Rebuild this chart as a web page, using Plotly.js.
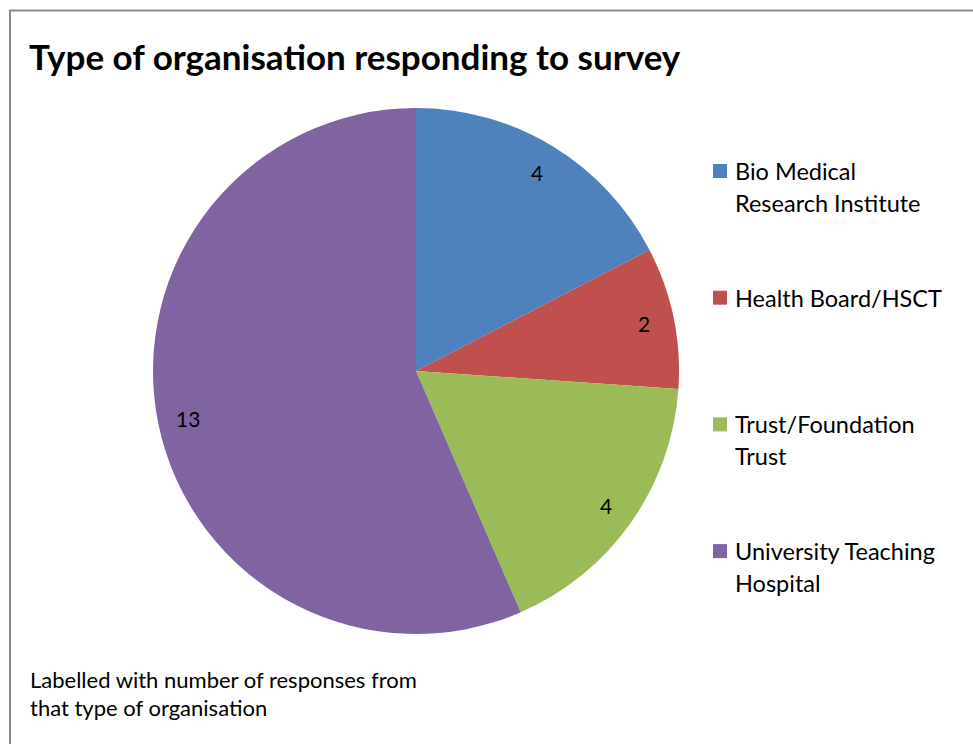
<!DOCTYPE html>
<html>
<head>
<meta charset="utf-8">
<script src="https://cdn.plot.ly/plotly-3.0.1.min.js"></script>
<style>html,body{margin:0;padding:0;background:#fff;}#chart{width:973px;height:744px;}</style>
</head>
<body>
<div id="chart"></div>
<script>
const categories = ['Bio Medical<br>Research Institute', 'Health Board/HSCT', 'Trust/Foundation<br>Trust', 'University Teaching<br>Hospital'];
const responses = [4, 2, 4, 13];
const sliceColors = ['#4F81BD', '#C0504D', '#9BBB59', '#8064A2'];
const titleText = 'Type of organisation responding to survey';
const noteText = 'Labelled with number of responses from<br>that type of organisation';

const W = 973, H = 744;
const FONT = 'Lato, "Open Sans", sans-serif';
// pie geometry in pixels
const cx = 416, cy = 371, R = 263;
const domX = [(cx - R) / W, (cx + R) / W];
const domY = [1 - (cy + R) / H, 1 - (cy - R) / H];

const annotations = [];
// data labels placed along each slice's mid-angle
const total = responses.reduce((a, b) => a + b, 0);
let cum = 0;
responses.forEach((v, i) => {
  const th = 2 * Math.PI * (cum + v / 2) / total;
  cum += v;
  const r = 0.885 * R;
  annotations.push({
    xref: 'paper', yref: 'paper',
    x: (cx + r * Math.sin(th)) / W, y: 1 - (cy - r * Math.cos(th)) / H,
    xanchor: 'center', yanchor: 'middle', showarrow: false,
    text: String(v), font: {family: FONT, size: 21, color: '#000'}
  });
});

// custom legend
const shapes = [];
const legX = 713, legTxtX = 733, legY0 = 171, legStep = 126.7, lineGap = 32;
categories.forEach((lab, i) => {
  const yc = legY0 + i * legStep;
  shapes.push({type: 'rect', xref: 'paper', yref: 'paper',
    x0: legX / W, x1: (legX + 14) / W, y0: 1 - (yc + 7) / H, y1: 1 - (yc - 7) / H,
    fillcolor: sliceColors[i], line: {width: 0}});
  lab.split('<br>').forEach((ln, j) => {
    annotations.push({xref: 'paper', yref: 'paper', x: legTxtX / W, y: 1 - (yc + j * lineGap) / H,
      xanchor: 'left', yanchor: 'middle', showarrow: false, text: ln,
      font: {family: FONT, size: 23.5, color: '#000'}});
  });
});

// footnote
noteText.split('<br>').forEach((ln, j) => {
  annotations.push({xref: 'paper', yref: 'paper', x: 28 / W, y: 1 - (679 + j * 28) / H,
    xanchor: 'left', yanchor: 'middle', showarrow: false, text: ln,
    font: {family: FONT, size: 22, color: '#000'}});
});

// chart border
shapes.push({type: 'rect', xref: 'paper', yref: 'paper',
  x0: 10 / W, x1: 1.02, y0: -0.02, y1: 1 - 10.5 / H,
  line: {color: '#8c8c8c', width: 2}, fillcolor: 'rgba(0,0,0,0)'});

const data = [{
  type: 'pie',
  labels: categories,
  values: responses,
  sort: false,
  direction: 'clockwise',
  rotation: 0,
  marker: {colors: sliceColors, line: {width: 0}},
  textinfo: 'none',
  hoverinfo: 'label+value',
  domain: {x: domX, y: domY},
  showlegend: false
}];

const layout = {
  width: W, height: H,
  margin: {l: 0, r: 0, t: 0, b: 0},
  paper_bgcolor: '#fff',
  title: {text: '<b>' + titleText + '</b>', x: 29 / W, xanchor: 'left', xref: 'paper',
    y: 1 - 58 / H, yanchor: 'middle', yref: 'container',
    font: {family: FONT, size: 35, color: '#000'}},
  annotations: annotations,
  shapes: shapes,
  showlegend: false
};

Plotly.newPlot('chart', data, layout, {displayModeBar: false, staticPlot: true});
</script>
</body>
</html>
